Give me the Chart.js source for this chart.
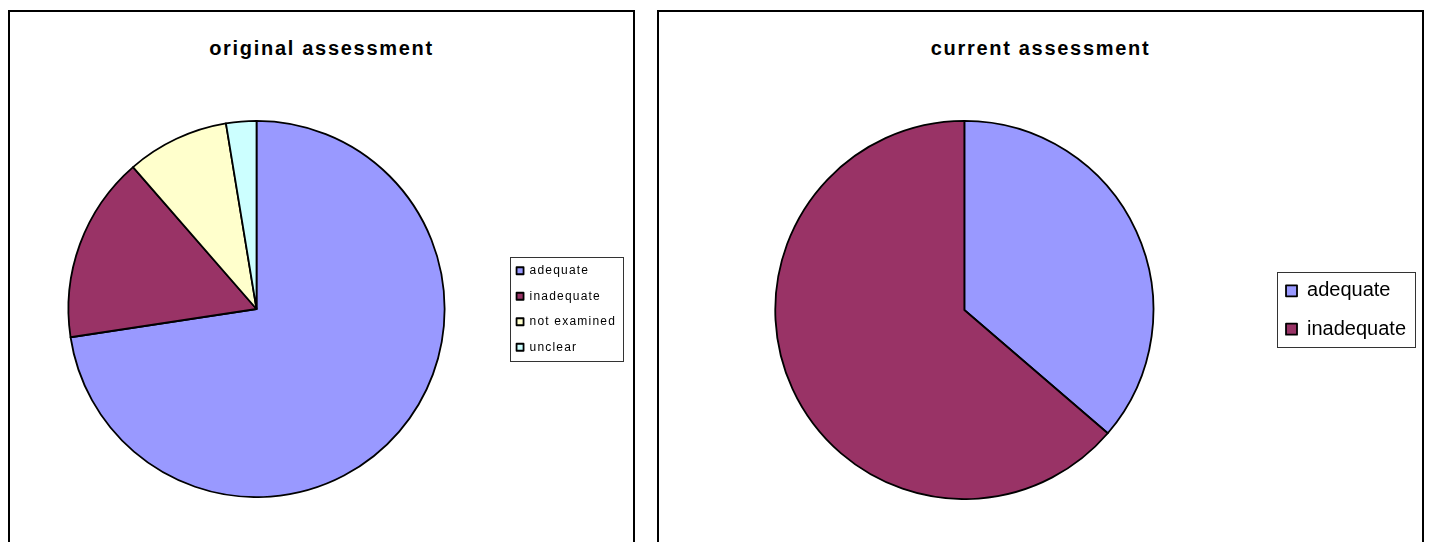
<!DOCTYPE html>
<html>
<head>
<meta charset="utf-8">
<title>assessment</title>
<script src="https://cdn.jsdelivr.net/npm/chart.js@4/dist/chart.umd.min.js"></script>
<style>
  html, body { margin: 0; padding: 0; background: #fff; overflow: hidden; }
  body { width: 1430px; height: 542px; position: relative; font-family: "Liberation Sans", Arial, sans-serif; }
  .panel { position: absolute; top: 10px; height: 560px; box-sizing: border-box; border: 2px solid #000; background: #fff; }
  .panel h3 { position: absolute; left: 0; right: 0; top: 25px; margin: 0; text-align: center;
    font: bold 20px/22px "Liberation Sans", Arial, sans-serif; letter-spacing: 1.7px; color: #000; }
  .panel canvas { position: absolute; left: 0; top: 0; }
  #p1 { left: 8px; width: 627px; }
  #p2 { left: 657px; width: 767px; }
</style>
</head>
<body>
<div class="panel" id="p1"><h3>original assessment</h3><div style="position:absolute;left:0;top:0;width:623px;height:486px"><canvas id="c1"></canvas></div></div>
<div class="panel" id="p2"><h3>current assessment</h3><div style="position:absolute;left:0;top:0;width:763px;height:488px"><canvas id="c2"></canvas></div></div>
<script>
  // categories and shares (percent of cases)
  const origLabels = ["adequate", "inadequate", "not examined", "unclear"];
  const origShares = [72.6, 16.0, 8.8, 2.6];
  const currLabels = ["adequate", "inadequate"];
  const currShares = [36.3, 63.7];
  const sliceColors = ["#9999FF", "#993366", "#FFFFCC", "#CCFFFF"];

  Chart.defaults.font.family = '"Liberation Sans", Arial, sans-serif';
  Chart.defaults.color = "#000";
  Chart.defaults.animation = false;

  // tracking for legend text + thin frame around the legend items
  const legendFrame = {
    id: "legendFrame",
    beforeLayout(chart, args, opts) { chart.ctx.letterSpacing = (opts.spacing || 0) + "px"; },
    beforeDraw(chart, args, opts) { chart.ctx.letterSpacing = (opts.spacing || 0) + "px"; },
    afterDraw(chart, args, opts) {
      const hb = chart.legend && chart.legend.legendHitBoxes;
      if (!hb || !hb.length) return;
      const l = Math.min(...hb.map(b => b.left)) - opts.padX;
      const r = Math.max(...hb.map(b => b.left + b.width)) + opts.padX;
      const t = Math.min(...hb.map(b => b.top)) - opts.padY;
      const btm = Math.max(...hb.map(b => b.top + b.height)) + opts.padY;
      const ctx = chart.ctx;
      ctx.save();
      ctx.strokeStyle = "#333";
      ctx.lineWidth = 1;
      ctx.strokeRect(Math.round(l) + 0.5, Math.round(t) + 0.5, Math.round(r - l), Math.round(btm - t));
      ctx.restore();
    }
  };

  function pie(canvas, labels, values, cfg) {
    return new Chart(canvas, {
      type: "pie",
      plugins: [legendFrame],
      data: {
        labels: labels,
        datasets: [{
          data: values,
          backgroundColor: sliceColors.slice(0, values.length),
          borderColor: "#000",
          borderWidth: 1.8,
          borderJoinStyle: "round"
        }]
      },
      options: {
        responsive: true,
        maintainAspectRatio: false,
        layout: { padding: cfg.padding },
        plugins: {
          tooltip: { enabled: false },
          title: { display: false },
          legend: {
            position: "right",
            align: "center",
            labels: {
              boxWidth: cfg.box, boxHeight: cfg.box,
              padding: cfg.gap,
              font: { size: cfg.fontSize },
              color: "#000"
            }
          },
          legendFrame: { spacing: cfg.spacing, padX: cfg.frameX, padY: cfg.frameY }
        }
      }
    });
  }

  pie(document.getElementById("c1"), origLabels, origShares, {
    padding: { top: 108, left: 0, right: 7, bottom: 0 },
    box: 7, gap: 13.5, fontSize: 12, spacing: 1.2, frameX: 7, frameY: 7.5
  });
  pie(document.getElementById("c2"), currLabels, currShares, {
    padding: { top: 108, left: 2, right: 6, bottom: 0 },
    box: 11, gap: 18.3, fontSize: 20, spacing: 0, frameX: 9, frameY: 8.5
  });
</script>
</body>
</html>
